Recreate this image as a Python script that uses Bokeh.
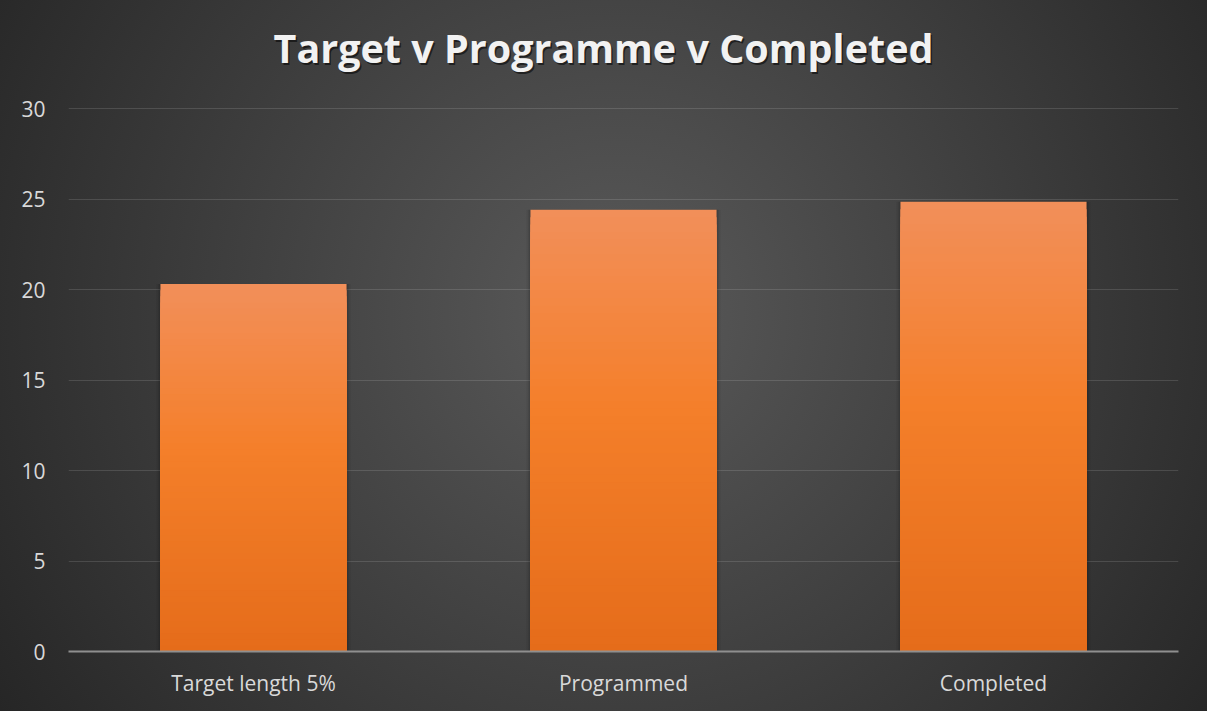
from bokeh.plotting import figure
from bokeh.models import ColumnDataSource, Label, FixedTicker, FactorRange
from bokeh.embed import file_html
from bokeh.resources import INLINE

# ---- data ----
categories = ["Target length 5%", "Programmed", "Completed"]
values = [20.3, 24.4, 24.85]
y_ticks = [0, 5, 10, 15, 20, 25, 30]
title_text = "Target v Programme v Completed"

FONT = "Open Sans"

# layout (pixels)
W, H = 1207, 711
FRAME_L, FRAME_R, AXIS_TOP, AXIS_BOTTOM = 68, 1178, 108, 651   # value 30 at AXIS_TOP, 0 at AXIS_BOTTOM
FRAME_TOP = 10
y_max = y_ticks[-1] * (AXIS_BOTTOM - FRAME_TOP) / (AXIS_BOTTOM - AXIS_TOP)

# gradient stops for the bars (fraction of bar height -> colour)
stops = [(0.0, (0xE5, 0x6C, 0x1A)), (0.55, (0xF4, 0x7F, 0x2A)), (1.0, (0xF2, 0x8F, 0x5A))]


def grad_color(t):
    for (t0, c0), (t1, c1) in zip(stops[:-1], stops[1:]):
        if t <= t1:
            f = (t - t0) / (t1 - t0) if t1 > t0 else 0
            c = [round(a + (b - a) * f) for a, b in zip(c0, c1)]
            return "#%02x%02x%02x" % tuple(c)
    return "#%02x%02x%02x" % stops[-1][1]


# stacked, nested bars drawn tallest first -> smooth vertical gradient without seams
N = 60
xs, tops, colors = [], [], []
for i in reversed(range(N)):
    for cat, v in zip(categories, values):
        xs.append(cat)
        tops.append(v * (i + 1) / N)
        colors.append(grad_color((i + 0.5) / N))
src = ColumnDataSource(dict(x=xs, top=tops, color=colors))
shadow_src = ColumnDataSource(dict(x=categories, top=values))

p = figure(
    width=W, height=H,
    x_range=FactorRange(*categories), y_range=(0, y_max),
    output_backend="svg", toolbar_location=None,
    min_border_left=FRAME_L, min_border_right=W - FRAME_R,
    min_border_top=FRAME_TOP, min_border_bottom=H - AXIS_BOTTOM,
)
p.title.visible = False
p.styles = {"background": "radial-gradient(circle farthest-corner at 51% 44%, #5a5a5a 0%, #262626 100%)"}
p.border_fill_alpha = 0
p.background_fill_alpha = 0
p.outline_line_color = None

# soft shadow behind bars
for w, a in [(0.525, 0.06), (0.515, 0.08), (0.508, 0.10)]:
    p.vbar(x="x", top="top", bottom=0, width=w, source=shadow_src,
           fill_color="#000000", fill_alpha=a, line_color=None)

p.vbar(x="x", bottom=0, top="top", width=0.503, source=src,
       fill_color="color", line_color=None)

# axes
p.yaxis.ticker = FixedTicker(ticks=y_ticks)
p.yaxis.axis_line_color = None
p.yaxis.major_tick_line_color = None
p.yaxis.minor_tick_line_color = None
p.yaxis.major_label_standoff = 17
p.yaxis.major_label_text_font = FONT
p.yaxis.major_label_text_font_size = "21px"
p.yaxis.major_label_text_color = "#d9d9d9"

p.xaxis.axis_line_color = "#8f8f8f"
p.xaxis.axis_line_width = 2
p.xaxis.major_tick_line_color = None
p.xaxis.minor_tick_line_color = None
p.xaxis.major_label_standoff = 11
p.xaxis.major_label_text_font = FONT
p.xaxis.major_label_text_font_size = "21px"
p.xaxis.major_label_text_color = "#d9d9d9"

p.xgrid.grid_line_color = None
p.ygrid.grid_line_color = "#ffffff"
p.ygrid.grid_line_alpha = 0.13
p.ygrid.grid_line_width = 1

# title (drawn as labels, centred on the whole chart)
TITLE_CX, TITLE_Y = 603, 47
for col, alpha, dx, dy in [("#000000", 0.55, 1.5, -2), ("#f2f2f2", 1.0, 0, 0)]:
    p.add_layout(Label(
        x=TITLE_CX - FRAME_L, y=AXIS_BOTTOM - TITLE_Y, x_units="screen", y_units="screen",
        text=title_text,
        text_font=FONT, text_font_size="39.5px", text_font_style="bold",
        text_color=col, text_alpha=alpha, text_align="center", text_baseline="alphabetic",
        x_offset=dx, y_offset=dy,
    ))

open("out.html", "w").write(file_html(p, INLINE))
